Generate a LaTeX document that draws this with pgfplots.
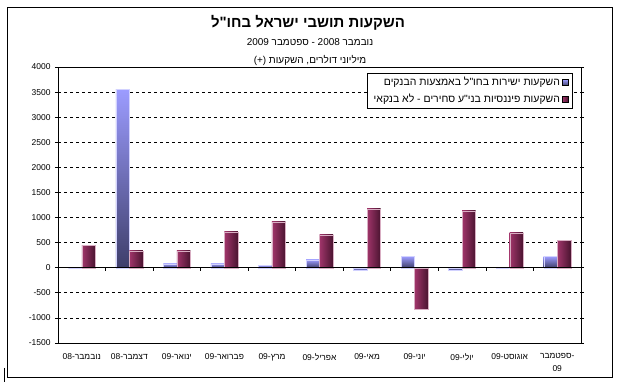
\documentclass[border=0pt]{standalone}
\usepackage{fontspec}
\setmainfont{Liberation Sans}
\newfontfamily\heb[Script=Hebrew]{Liberation Sans}
\usepackage{pgfplots}
\pgfplotsset{compat=1.18}
\TeXXeTstate=1
\newcommand{\R}[1]{{\heb\beginR #1\endR}}
\definecolor{bluelight}{HTML}{9C9CFF}
\definecolor{bluedark}{HTML}{3E3E6A}
\definecolor{marL}{HTML}{A0356A}
\definecolor{marR}{HTML}{4A1430}

\pgfplotstableread{
x blue red
0 0 440
1 3550 340
2 80 335
3 80 716
4 45 915
5 160 657
6 -55 1174
7 225 -816
8 -40 1134
9 0 696
10 225 550
}\datatable

\begin{document}
\begin{tikzpicture}
\useasboundingbox (0bp,0bp) rectangle (618bp,385bp);
\fill[white] (0bp,0bp) rectangle (618bp,385bp);
\draw[line width=1bp] (7bp,7bp) rectangle (612bp,377bp);
\draw[line width=1.6bp] (4.5bp,17bp) -- (4.5bp,3bp);
\node[font=\bfseries\fontsize{15}{17}\selectfont] at (308bp,362bp) {\R{השקעות תושבי ישראל בחו"ל}};
\node[font=\fontsize{10}{12}\selectfont] at (310bp,343bp) {\R{נובמבר 2008 - ספטמבר 2009}};
\node[font=\fontsize{10}{12}\selectfont] at (310bp,325bp) {\R{מיליוני דולרים, השקעות (+)}};
\begin{axis}[
  at={(58bp,42bp)}, anchor=south west,
  width=523bp, height=276bp, scale only axis,
  xmin=-0.5, xmax=10.5, ymin=-1500, ymax=4000,
  ybar=0pt, bar width=13.5bp,
  ytick={-1500,-1000,...,4000},
  ymajorgrids,
  major grid style={black, dash pattern=on 3bp off 3bp, line width=0.7bp},
  axis line style={line width=0.8bp},
  y tick style={black, line width=0.8bp},
  tick align=outside, major tick length=3bp,
  yticklabel style={font=\fontsize{8.5}{10}\selectfont, xshift=-1bp},
  /pgf/number format/assume math mode=true,
  /pgf/number format/.cd, 1000 sep={}, /tikz/.cd,
  xtick={0,...,10},
  x tick style={draw=none},
  xticklabels={{\R{נובמבר-08}},{\R{דצמבר-08}},{\R{ינואר-09}},{\R{פברואר-09}},{\R{מרץ-09}},{\R{אפריל-09}},{\R{מאי-09}},{\R{יוני-09}},{\R{יולי-09}},{\R{אוגוסט-09}},{\R{-ספטמבר}\\09}},
  xticklabel style={font=\fontsize{8.5}{13}\selectfont, align=center, yshift=-4bp},
  legend style={at={(rel axis cs:0.985,0.978)}, anchor=north east, draw=black, line width=0.8bp,
    font=\fontsize{10.5}{12}\selectfont, row sep=3bp, inner xsep=4bp, inner ysep=2bp},
  legend cell align=right,
  legend plot pos=right,
]
\pgfplotsinvokeforeach{0,1,2,3,4,5,6,7,8,9,10}{
  \addplot[forget plot, bar shift=-6.75bp, draw=white!55!bluelight, line width=0.3bp,
    top color=bluelight, bottom color=bluedark,
    x filter/.expression={x==#1 ? x : nan}]
    table[x=x, y=blue] {\datatable};
  \addplot[forget plot, bar shift=6.75bp, draw=white!60!marL, line width=0.3bp,
    left color=marL, right color=marR,
    x filter/.expression={x==#1 ? x : nan}]
    table[x=x, y=red] {\datatable};
}
\addlegendimage{legend image code/.code={\fill[top color=bluelight, bottom color=bluedark] (0bp,-3bp) rectangle (6bp,3bp);}}
\addlegendentry{\R{השקעות ישירות בחו"ל באמצעות הבנקים}}
\addlegendimage{legend image code/.code={\fill[left color=marL, right color=marR] (0bp,-3bp) rectangle (6bp,3bp);}}
\addlegendentry{\R{השקעות פיננסיות בני"ע סחירים - לא בנקאי}}
\draw[black, line width=0.8bp] (axis cs:-0.5,0) -- (axis cs:10.5,0);
\pgfplotsinvokeforeach{0.5,1.5,2.5,3.5,4.5,5.5,6.5,7.5,8.5,9.5}{
  \draw[black, line width=0.8bp] (axis cs:#1,0) -- ([yshift=-3bp]axis cs:#1,0);
}
\end{axis}
\end{tikzpicture}
\end{document}
